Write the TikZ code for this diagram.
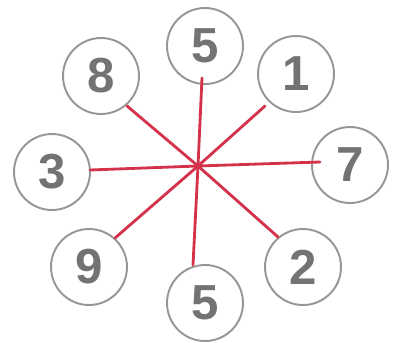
\documentclass[tikz,border=0pt]{standalone}
\usepackage{fontspec}
\setmainfont{Liberation Sans}
\usepackage{tikz}
\definecolor{RingGray}{RGB}{150, 150, 150}
\definecolor{DigitGray}{RGB}{115, 115, 115}
\definecolor{LineRed}{RGB}{212, 50, 74}

\begin{document}
\begin{tikzpicture}[x=0.02cm, y=-0.02cm,
    ring/.style={circle, draw=RingGray, line width=1.1pt, minimum size=1.52cm, inner sep=0pt,
      text=DigitGray, font=\fontsize{28}{28}\selectfont\bfseries},
    spoke/.style={draw=LineRed, line width=1.6pt, line cap=round}]
    \useasboundingbox (0, 0) rectangle (398, 342);

    % Rings
    \node[ring] (top) at (205, 46) {5};
    \node[ring] (one) at (296, 74) {1};
    \node[ring] (seven) at (350, 165) {7};
    \node[ring] (two) at (303, 267) {2};
    \node[ring] (bottom) at (205, 303) {5};
    \node[ring] (nine) at (89, 267) {9};
    \node[ring] (three) at (52, 172) {3};
    \node[ring] (eight) at (101, 76) {8};

    % Spoke ends
    \coordinate (hub) at (198, 166);
    \coordinate (topEnd) at (202, 78);
    \coordinate (oneEnd) at (265, 106);
    \coordinate (sevenEnd) at (320, 162);
    \coordinate (twoEnd) at (278, 237);
    \coordinate (bottomEnd) at (193, 265);
    \coordinate (nineEnd) at (115, 238);
    \coordinate (threeEnd) at (90, 170);
    \coordinate (eightEnd) at (127, 106);

    % Spokes
    \draw[spoke] (hub) -- (topEnd);
    \draw[spoke] (hub) -- (oneEnd);
    \draw[spoke] (hub) -- (sevenEnd);
    \draw[spoke] (hub) -- (twoEnd);
    \draw[spoke] (hub) -- (bottomEnd);
    \draw[spoke] (hub) -- (nineEnd);
    \draw[spoke] (hub) -- (threeEnd);
    \draw[spoke] (hub) -- (eightEnd);
\end{tikzpicture}
\end{document}
